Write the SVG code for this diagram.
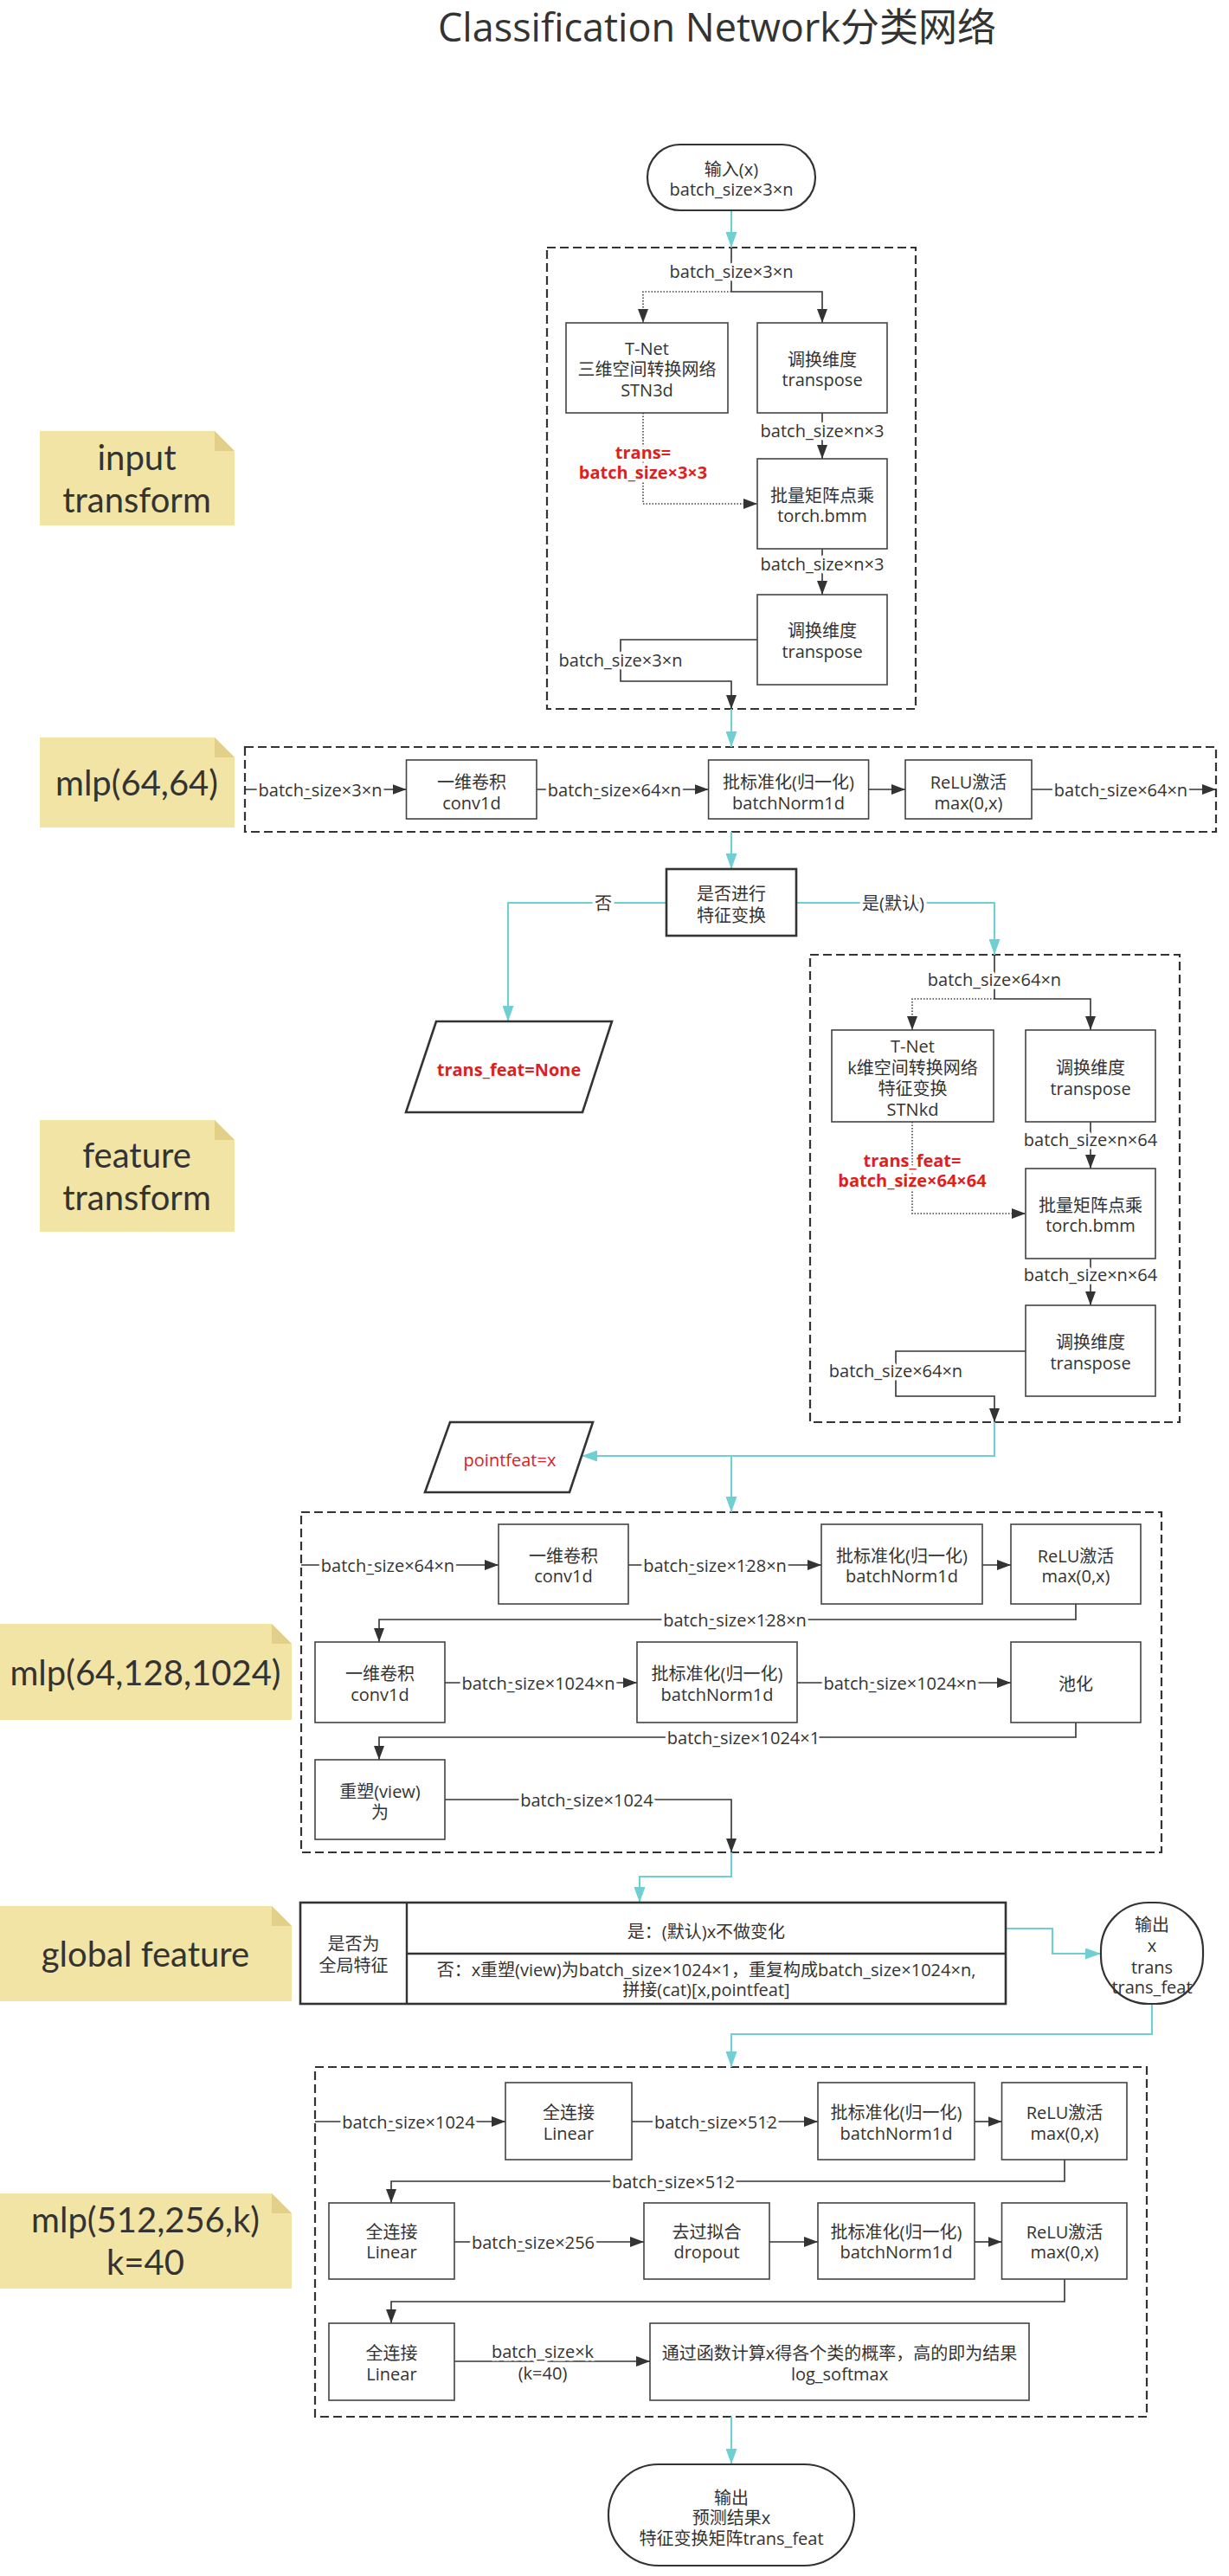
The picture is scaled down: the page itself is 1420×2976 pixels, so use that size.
<svg xmlns="http://www.w3.org/2000/svg" width="1420" height="2976" viewBox="0 0 1420 2976">
<style>
text{font-family:'Open Sans','Noto Sans CJK SC',sans-serif;font-size:20px;fill:#333;text-anchor:middle;dominant-baseline:central}
.lb{paint-order:stroke;stroke:#fff;stroke-width:7px;stroke-linejoin:round}
.red{fill:#E02020;font-weight:bold}
.redn{fill:#E02020}
.box{fill:#fff;stroke:#444;stroke-width:1.6}
.thick{fill:#fff;stroke:#333;stroke-width:2.6}
.term{fill:#fff;stroke:#333;stroke-width:2.2}
.dash{fill:none;stroke:#333;stroke-width:2.2;stroke-dasharray:10 5}
.ln{fill:none;stroke:#333;stroke-width:1.6}
.dot{fill:none;stroke:#444;stroke-width:1.6;stroke-dasharray:1.5 2}
.cy{fill:none;stroke:#6FCFD3;stroke-width:2.2}
.note{fill:#F2E4A4}
.fold{fill:#E2D08A}
.nt{font-family:Lato,'Open Sans',sans-serif;font-size:40px}
.title{font-size:45px;text-anchor:start;dominant-baseline:auto}
</style>
<defs>
<marker id="ab" viewBox="0 0 16 12" refX="16" refY="6" markerWidth="16" markerHeight="12" markerUnits="userSpaceOnUse" orient="auto"><path d="M0,0 L16,6 L0,12 z" fill="#333"/></marker>
<marker id="ac" viewBox="0 0 18 13" refX="18" refY="6.5" markerWidth="18" markerHeight="13" markerUnits="userSpaceOnUse" orient="auto"><path d="M0,0 L18,6.5 L0,13 z" fill="#6FCFD3"/></marker>
</defs>
<rect width="1420" height="2976" fill="#fff"/>
<text class="title" x="506" y="48">Classification Network分类网络</text>

<g id="notes">
<g id="note-input"><path class="note" d="M46,498 H248 L271,521 V607 H46 Z"/><path class="fold" d="M248,498 L271,521 H248 Z"/><text class="nt" x="158" y="528">input<tspan x="158" dy="49">transform</tspan></text></g>
<g id="note-mlp1"><path class="note" d="M46,852 H248 L271,875 V956 H46 Z"/><path class="fold" d="M248,852 L271,875 H248 Z"/><text class="nt" x="158" y="904">mlp(64,64)</text></g>
<g id="note-feat"><path class="note" d="M46,1294 H248 L271,1317 V1423 H46 Z"/><path class="fold" d="M248,1294 L271,1317 H248 Z"/><text class="nt" x="158" y="1334">feature<tspan x="158" dy="49">transform</tspan></text></g>
<g id="note-mlp2"><path class="note" d="M0,1876 H314 L337,1899 V1987 H0 Z"/><path class="fold" d="M314,1876 L337,1899 H314 Z"/><text class="nt" x="168" y="1932">mlp(64,128,1024)</text></g>
<g id="note-global"><path class="note" d="M0,2202 H314 L337,2225 V2312 H0 Z"/><path class="fold" d="M314,2202 L337,2225 H314 Z"/><text class="nt" x="168" y="2257">global feature</text></g>
<g id="note-mlp3"><path class="note" d="M0,2534 H314 L337,2557 V2644 H0 Z"/><path class="fold" d="M314,2534 L337,2557 H314 Z"/><text class="nt" x="168" y="2564">mlp(512,256,k)<tspan x="168" dy="49">k=40</tspan></text></g>
</g>

<g id="groups">
<rect id="grp-input-transform" class="dash" x="632" y="286" width="426" height="533"/>
<rect id="grp-mlp1" class="dash" x="283" y="863" width="1122" height="98"/>
<rect id="grp-feature-transform" class="dash" x="936" y="1103" width="427" height="540"/>
<rect id="grp-mlp2" class="dash" x="348" y="1747" width="994" height="393"/>
<rect id="grp-mlp3" class="dash" x="364" y="2388" width="961" height="404"/>
</g>

<g id="connectors">
<path class="cy" d="M845,243 V286" marker-end="url(#ac)"/>
<path class="ln" d="M845,286 V337"/>
<path class="dot" d="M845,337 H743 V373" marker-end="url(#ab)"/>
<path class="ln" d="M845,337 H950 V373" marker-end="url(#ab)"/>
<path class="dot" d="M743,477 V582 H875" marker-end="url(#ab)"/>
<path class="ln" d="M950,477 V530" marker-end="url(#ab)"/>
<path class="ln" d="M950,634 V687" marker-end="url(#ab)"/>
<path class="ln" d="M875,739 H717 V787 H845 V819" marker-end="url(#ab)"/>
<path class="cy" d="M845,819 V863" marker-end="url(#ac)"/>
<path class="ln" d="M283,912 H469.5" marker-end="url(#ab)"/>
<path class="ln" d="M620,912 H818.6" marker-end="url(#ab)"/>
<path class="ln" d="M1003.6,912 H1046" marker-end="url(#ab)"/>
<path class="ln" d="M1192,912 H1405" marker-end="url(#ab)"/>
<path class="cy" d="M845,961 V1004" marker-end="url(#ac)"/>
<path class="cy" d="M770,1043 H587 V1180" marker-end="url(#ac)"/>
<path class="cy" d="M920,1043 H1149 V1103" marker-end="url(#ac)"/>
<path class="ln" d="M1149,1103 V1154"/>
<path class="dot" d="M1149,1154 H1054 V1190" marker-end="url(#ab)"/>
<path class="ln" d="M1149,1154 H1260 V1190" marker-end="url(#ab)"/>
<path class="dot" d="M1054,1296 V1402 H1185" marker-end="url(#ab)"/>
<path class="ln" d="M1260,1296 V1350" marker-end="url(#ab)"/>
<path class="ln" d="M1260,1454 V1508" marker-end="url(#ab)"/>
<path class="ln" d="M1185,1561 H1035 V1613 H1149 V1643" marker-end="url(#ab)"/>
<path class="cy" d="M1149,1643 V1682 H672" marker-end="url(#ac)"/>
<path class="cy" d="M845,1682 V1747" marker-end="url(#ac)"/>
<path class="ln" d="M348,1808 H576" marker-end="url(#ab)"/>
<path class="ln" d="M726,1808 H949" marker-end="url(#ab)"/>
<path class="ln" d="M1135,1808 H1168" marker-end="url(#ab)"/>
<path class="ln" d="M1243,1853 V1871 H438 V1897" marker-end="url(#ab)"/>
<path class="ln" d="M514,1944 H736" marker-end="url(#ab)"/>
<path class="ln" d="M921,1944 H1168" marker-end="url(#ab)"/>
<path class="ln" d="M1243,1990 V2007 H438 V2033" marker-end="url(#ab)"/>
<path class="ln" d="M514,2079 H845 V2140" marker-end="url(#ab)"/>
<path class="cy" d="M845,2140 V2168 H739 V2198" marker-end="url(#ac)"/>
<path class="cy" d="M1162,2228 H1216 V2257 H1272" marker-end="url(#ac)"/>
<path class="cy" d="M1331,2315 V2350 H845 V2388" marker-end="url(#ac)"/>
<path class="ln" d="M364,2451 H584" marker-end="url(#ab)"/>
<path class="ln" d="M730,2451 H945" marker-end="url(#ab)"/>
<path class="ln" d="M1126,2451 H1157.5" marker-end="url(#ab)"/>
<path class="ln" d="M1230,2495 V2520 H452 V2545" marker-end="url(#ab)"/>
<path class="ln" d="M525,2590 H744" marker-end="url(#ab)"/>
<path class="ln" d="M889,2590 H945" marker-end="url(#ab)"/>
<path class="ln" d="M1126,2590 H1157.5" marker-end="url(#ab)"/>
<path class="ln" d="M1230,2633 V2659 H452 V2684" marker-end="url(#ab)"/>
<path class="ln" d="M525,2728 H751" marker-end="url(#ab)"/>
<path class="cy" d="M845,2792 V2847" marker-end="url(#ac)"/>
</g>

<g id="labels">
<text class="lb" x="845" y="313">batch_size×3×n</text>
<text class="lb red" x="743" y="522">trans=<tspan x="743" dy="23">batch_size×3×3</tspan></text>
<text class="lb" x="950" y="497">batch_size×n×3</text>
<text class="lb" x="950" y="651">batch_size×n×3</text>
<text class="lb" x="717" y="762">batch_size×3×n</text>
<text class="lb" x="370" y="912">batch_size×3×n</text>
<text class="lb" x="710" y="912">batch_size×64×n</text>
<text class="lb" x="1295" y="912">batch_size×64×n</text>
<text class="lb" x="697" y="1043">否</text>
<text class="lb" x="1032" y="1043">是(默认)</text>
<text class="lb" x="1149" y="1131">batch_size×64×n</text>
<text class="lb red" x="1054" y="1340">trans_feat=<tspan x="1054" dy="23">batch_size×64×64</tspan></text>
<text class="lb" x="1260" y="1316">batch_size×n×64</text>
<text class="lb" x="1260" y="1472">batch_size×n×64</text>
<text class="lb" x="1035" y="1583">batch_size×64×n</text>
<text class="lb" x="448" y="1808">batch_size×64×n</text>
<text class="lb" x="826" y="1808">batch_size×128×n</text>
<text class="lb" x="849" y="1871">batch_size×128×n</text>
<text class="lb" x="622" y="1944">batch_size×1024×n</text>
<text class="lb" x="1040" y="1944">batch_size×1024×n</text>
<text class="lb" x="859" y="2007">batch_size×1024×1</text>
<text class="lb" x="678" y="2079">batch_size×1024</text>
<text class="lb" x="472" y="2451">batch_size×1024</text>
<text class="lb" x="827" y="2451">batch_size×512</text>
<text class="lb" x="778" y="2520">batch_size×512</text>
<text class="lb" x="616" y="2590">batch_size×256</text>
<text class="lb" x="627" y="2716">batch_size×k<tspan x="627" dy="25">(k=40)</tspan></text>
</g>

<g id="n-input"><rect class="term" x="748" y="167" width="194" height="76" rx="38"/><text x="845" y="195">输入(x)</text><text x="845" y="218">batch_size×3×n</text></g>
<g id="n-tnet3"><rect class="box" x="654" y="373" width="187" height="104"/><text x="747.5" y="402">T-Net</text><text x="747.5" y="426">三维空间转换网络</text><text x="747.5" y="450">STN3d</text></g>
<g id="n-transpose1"><rect class="box" x="875" y="373" width="150" height="104"/><text x="950" y="415">调换维度</text><text x="950" y="438">transpose</text></g>
<g id="n-bmm1"><rect class="box" x="875" y="530" width="150" height="104"/><text x="950" y="572">批量矩阵点乘</text><text x="950" y="595">torch.bmm</text></g>
<g id="n-transpose2"><rect class="box" x="875" y="687" width="150" height="104"/><text x="950" y="728">调换维度</text><text x="950" y="752">transpose</text></g>

<g id="n-conv1"><rect class="box" x="469.5" y="878" width="150.5" height="68"/><text x="545" y="903">一维卷积</text><text x="545" y="927">conv1d</text></g>
<g id="n-bn1"><rect class="box" x="818.6" y="878" width="185" height="68"/><text x="911" y="903">批标准化(归一化)</text><text x="911" y="927">batchNorm1d</text></g>
<g id="n-relu1"><rect class="box" x="1046" y="878" width="146" height="68"/><text x="1119" y="903">ReLU激活</text><text x="1119" y="927">max(0,x)</text></g>

<g id="n-decision"><rect class="thick" x="770" y="1004" width="150" height="77"/><text x="845" y="1032">是否进行</text><text x="845" y="1057">特征变换</text></g>
<g id="n-transfeat-none"><path class="thick" d="M504,1180 H707 L673,1285 H469 Z"/><text class="red" x="588" y="1235">trans_feat=None</text></g>

<g id="n-tnetk"><rect class="box" x="961" y="1190" width="187" height="106"/><text x="1054.5" y="1208">T-Net</text><text x="1054.5" y="1233">k维空间转换网络</text><text x="1054.5" y="1257">特征变换</text><text x="1054.5" y="1281">STNkd</text></g>
<g id="n-transpose3"><rect class="box" x="1185" y="1190" width="150" height="106"/><text x="1260" y="1233">调换维度</text><text x="1260" y="1257">transpose</text></g>
<g id="n-bmm2"><rect class="box" x="1185" y="1350" width="150" height="104"/><text x="1260" y="1392">批量矩阵点乘</text><text x="1260" y="1415">torch.bmm</text></g>
<g id="n-transpose4"><rect class="box" x="1185" y="1508" width="150" height="105"/><text x="1260" y="1550">调换维度</text><text x="1260" y="1574">transpose</text></g>

<g id="n-pointfeat"><path class="thick" d="M520,1643 H685 L658,1724 H491 Z"/><text class="redn" x="589" y="1686">pointfeat=x</text></g>

<g id="n-conv2"><rect class="box" x="576" y="1761" width="150" height="92"/><text x="651" y="1797">一维卷积</text><text x="651" y="1820">conv1d</text></g>
<g id="n-bn2"><rect class="box" x="949" y="1761" width="186" height="92"/><text x="1042" y="1797">批标准化(归一化)</text><text x="1042" y="1820">batchNorm1d</text></g>
<g id="n-relu2"><rect class="box" x="1168" y="1761" width="150" height="92"/><text x="1243" y="1797">ReLU激活</text><text x="1243" y="1820">max(0,x)</text></g>
<g id="n-conv3"><rect class="box" x="364" y="1897" width="150" height="93"/><text x="439" y="1933">一维卷积</text><text x="439" y="1957">conv1d</text></g>
<g id="n-bn3"><rect class="box" x="736" y="1897" width="185" height="93"/><text x="828.5" y="1933">批标准化(归一化)</text><text x="828.5" y="1957">batchNorm1d</text></g>
<g id="n-pool"><rect class="box" x="1168" y="1897" width="150" height="93"/><text x="1243" y="1945">池化</text></g>
<g id="n-view"><rect class="box" x="364" y="2033" width="150" height="92"/><text x="439" y="2069">重塑(view)</text><text x="439" y="2093">为</text></g>

<g id="n-global"><rect class="thick" x="347" y="2198" width="815" height="117"/><path class="ln" style="stroke-width:2.4" d="M470,2198 V2315 M470,2257 H1162"/><text x="408.5" y="2245">是否为</text><text x="408.5" y="2270">全局特征</text><text x="816" y="2231">是：(默认)x不做变化</text><text x="816" y="2275">否：x重塑(view)为batch_size×1024×1，重复构成batch_size×1024×n,</text><text x="816" y="2298">拼接(cat)[x,pointfeat]</text></g>
<g id="n-out1"><rect class="term" x="1272" y="2198" width="118" height="117" rx="55"/><text x="1331" y="2223">输出</text><text x="1331" y="2247">x</text><text x="1331" y="2272">trans</text><text x="1331" y="2295">trans_feat</text></g>

<g id="n-fc1"><rect class="box" x="584" y="2406" width="146" height="89"/><text x="657" y="2440">全连接</text><text x="657" y="2464">Linear</text></g>
<g id="n-bn4"><rect class="box" x="945" y="2406" width="181" height="89"/><text x="1035.5" y="2440">批标准化(归一化)</text><text x="1035.5" y="2464">batchNorm1d</text></g>
<g id="n-relu4"><rect class="box" x="1157.5" y="2406" width="144.5" height="89"/><text x="1230" y="2440">ReLU激活</text><text x="1230" y="2464">max(0,x)</text></g>
<g id="n-fc2"><rect class="box" x="380" y="2545" width="145" height="88"/><text x="452.5" y="2578">全连接</text><text x="452.5" y="2601">Linear</text></g>
<g id="n-dropout"><rect class="box" x="744" y="2545" width="145" height="88"/><text x="816.5" y="2578">去过拟合</text><text x="816.5" y="2601">dropout</text></g>
<g id="n-bn5"><rect class="box" x="945" y="2545" width="181" height="88"/><text x="1035.5" y="2578">批标准化(归一化)</text><text x="1035.5" y="2601">batchNorm1d</text></g>
<g id="n-relu5"><rect class="box" x="1157.5" y="2545" width="144.5" height="88"/><text x="1230" y="2578">ReLU激活</text><text x="1230" y="2601">max(0,x)</text></g>
<g id="n-fc3"><rect class="box" x="380" y="2684" width="145" height="89"/><text x="452.5" y="2718">全连接</text><text x="452.5" y="2742">Linear</text></g>
<g id="n-softmax"><rect class="box" x="751" y="2684" width="438" height="89"/><text x="970" y="2718">通过函数计算x得各个类的概率，高的即为结果</text><text x="970" y="2742">log_softmax</text></g>

<g id="n-out2"><rect class="term" x="703" y="2847" width="284" height="117" rx="58"/><text x="845" y="2885">输出</text><text x="845" y="2908">预测结果x</text><text x="845" y="2932">特征变换矩阵trans_feat</text></g>
</svg>
